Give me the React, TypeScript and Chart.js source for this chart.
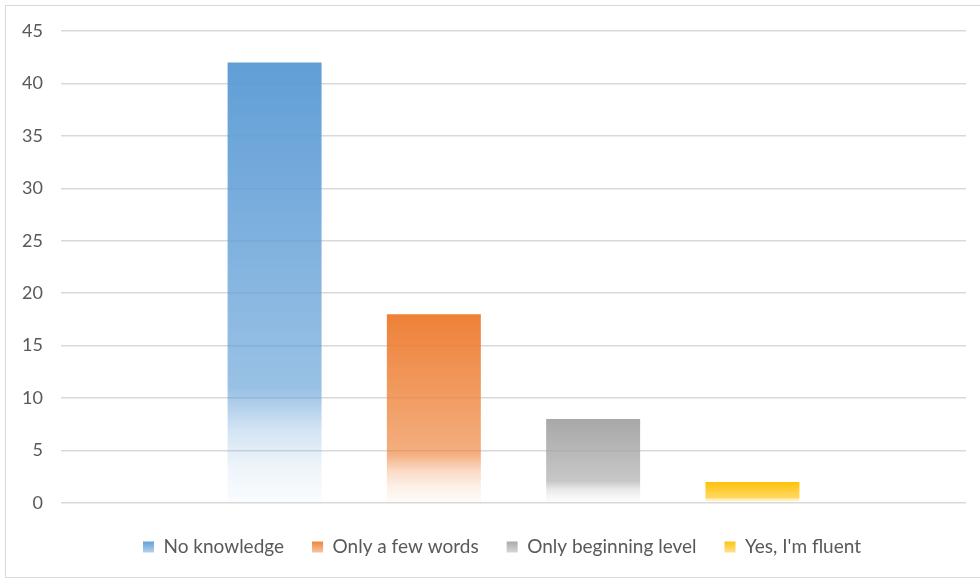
import React, { useEffect, useRef } from "react";
import { Chart, registerables } from "chart.js";

Chart.register(...registerables);

// Survey answers and their counts
const categories = ["No knowledge", "Only a few words", "Only beginning level", "Yes, I'm fluent"];
const counts = [42, 18, 8, 2];
const seriesColors = ["#5B9BD5", "#ED7D31", "#A5A5A5", "#FFC000"];
const yTicks = [0, 5, 10, 15, 20, 25, 30, 35, 40, 45];

const FONT = "Lato, 'Open Sans', 'DejaVu Sans', sans-serif";
const TEXT = "#595959";
const GRID = "#D9D9D9";
const LEGEND_FONT_SIZE = 19;
const LEGEND_BOX = 11;

function hexToRgb(hex: string): [number, number, number] {
  const n = parseInt(hex.slice(1), 16);
  return [(n >> 16) & 255, (n >> 8) & 255, n & 255];
}

// Vertical fade: strong colour on top, dissolving toward the baseline
const fadeStops: [number, number][] = [
  [0, 0.97],
  [0.74, 0.62],
  [0.83, 0.28],
  [0.92, 0.1],
  [1, 0.03],
];

function fade(ctx: CanvasRenderingContext2D, hex: string, top: number, bottom: number) {
  const [r, g, b] = hexToRgb(hex);
  const grad = ctx.createLinearGradient(0, top, 0, bottom);
  for (const [pos, a] of fadeStops) grad.addColorStop(pos, `rgba(${r},${g},${b},${a})`);
  return grad;
}

function legendFade(ctx: CanvasRenderingContext2D, hex: string, top: number, bottom: number) {
  const [r, g, b] = hexToRgb(hex);
  const grad = ctx.createLinearGradient(0, top, 0, bottom);
  grad.addColorStop(0, `rgba(${r},${g},${b},0.95)`);
  grad.addColorStop(1, `rgba(${r},${g},${b},0.45)`);
  return grad;
}

// Nudges the legend row into place and gives its swatches the same fade as the bars
const legendPlugin = {
  id: "legendTweaks",
  afterLayout(chart: any) {
    const legend = chart.legend;
    if (!legend) return;
    const dx = 14;
    const dy = 6.5;
    legend.left += dx;
    legend.right += dx;
    legend.top += dy;
    legend.bottom += dy;
  },
  beforeDraw(chart: any) {
    const legend = chart.legend;
    if (!legend || !legend.legendItems) return;
    legend.legendItems.forEach((item: any, i: number) => {
      const hb = legend.legendHitBoxes[i];
      if (!hb) return;
      const top =
        legend.top + legend.options.labels.padding + Math.max((LEGEND_FONT_SIZE - LEGEND_BOX) / 2, 0);
      item.fillStyle = legendFade(chart.ctx, seriesColors[i], top, top + LEGEND_BOX);
      item.strokeStyle = "rgba(0,0,0,0)";
      item.lineWidth = 0;
    });
  },
};

export default function App() {
  const canvasRef = useRef<HTMLCanvasElement | null>(null);

  useEffect(() => {
    const canvas = canvasRef.current;
    if (!canvas) return;

    const datasets = categories.map((name, i) => ({
      label: name,
      data: [counts[i]],
      backgroundColor: (c: any) => {
        const chart = c.chart;
        if (!chart.chartArea || c.type !== "data") return seriesColors[i];
        const y = chart.scales.y;
        return fade(chart.ctx, seriesColors[i], y.getPixelForValue(counts[i]), y.getPixelForValue(0));
      },
      borderWidth: 0,
      categoryPercentage: 0.704,
      barPercentage: 0.59,
    }));

    const chart = new Chart(canvas, {
      type: "bar",
      data: { labels: [""], datasets },
      plugins: [legendPlugin],
      options: {
        responsive: false,
        animation: false,
        events: [],
        layout: { padding: { left: 10, right: 14, top: 31, bottom: 20 } },
        scales: {
          x: { display: false },
          y: {
            min: 0,
            max: 45,
            afterFit: (scale: any) => {
              scale.width = 51;
            },
            afterBuildTicks: (scale: any) => {
              scale.ticks = yTicks.map((v) => ({ value: v }));
            },
            border: { display: false },
            grid: { color: GRID, lineWidth: 1.5, drawTicks: false },
            ticks: {
              padding: 18,
              color: TEXT,
              font: { family: FONT, size: 18 },
            },
          },
        },
        plugins: {
          tooltip: { enabled: false },
          legend: {
            position: "bottom",
            labels: {
              boxWidth: LEGEND_BOX,
              boxHeight: LEGEND_BOX,
              padding: 28,
              color: TEXT,
              font: { family: FONT, size: LEGEND_FONT_SIZE },
            },
          },
        },
      },
    });

    return () => chart.destroy();
  }, []);

  return (
    <div
      style={{
        position: "fixed",
        left: 0,
        top: 0,
        width: 980,
        height: 580,
        overflow: "hidden",
        background: "#ffffff",
      }}
    >
      <div
        style={{
          position: "absolute",
          left: 5,
          top: 5,
          width: 1000,
          height: 573,
          border: "1.5px solid #D9D9D9",
          boxSizing: "border-box",
        }}
      />
      <canvas
        ref={canvasRef}
        width={980}
        height={580}
        style={{ position: "absolute", left: 0, top: 0, width: 980, height: 580 }}
      />
    </div>
  );
}
